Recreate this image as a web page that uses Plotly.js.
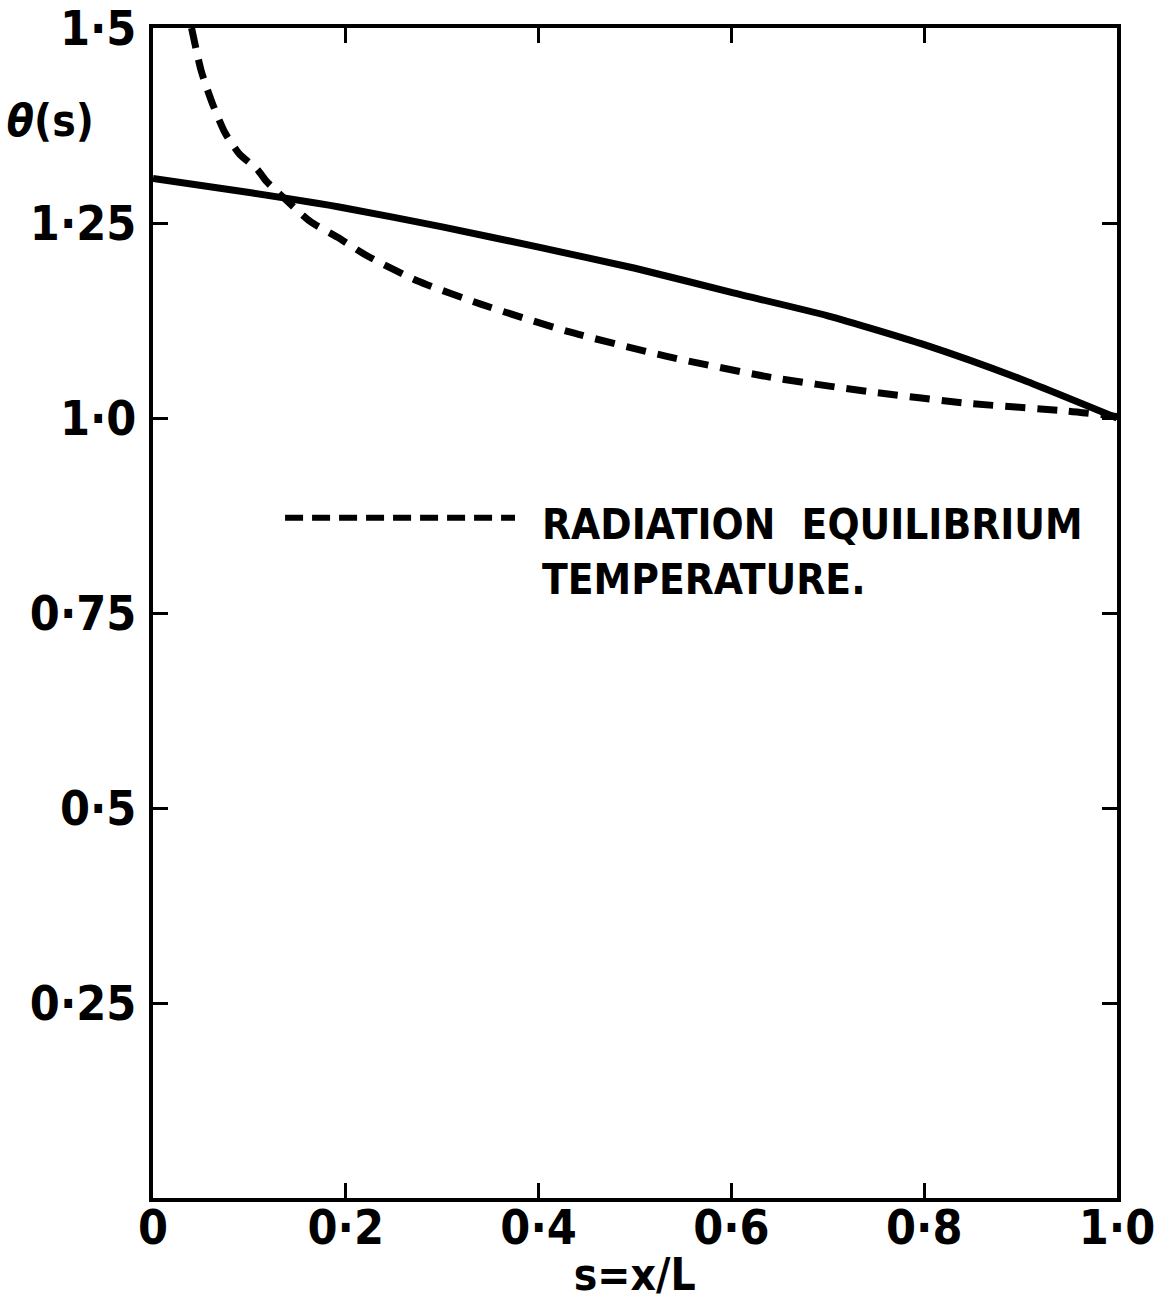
<!DOCTYPE html>
<html>
<head>
<meta charset="utf-8">
<script src="https://cdn.plot.ly/plotly-3.0.1.min.js"></script>
<style>
html,body{margin:0;padding:0;background:#fff;}
#chart{width:1155px;height:1306px;}
#chart text{font-stretch:condensed !important;}
</style>
</head>
<body>
<div id="chart"></div>
<script>
// Solid curve: temperature distribution theta(s)
const solidS = [0, 0.1, 0.2, 0.3, 0.4, 0.5, 0.6, 0.7, 0.8, 0.9, 1.0];
const solidTheta = [1.307, 1.289, 1.269, 1.245, 1.219, 1.192, 1.161, 1.131, 1.094, 1.05, 1.0];

// Dashed curve: radiation equilibrium temperature
const dashS = [0.04, 0.05, 0.062, 0.075, 0.09, 0.108, 0.118, 0.135, 0.163, 0.191, 0.222, 0.274, 0.34, 0.43, 0.533, 0.637, 0.741, 0.844, 0.948, 1.0];
const dashTheta = [1.5, 1.445, 1.402, 1.365, 1.338, 1.319, 1.303, 1.283, 1.252, 1.232, 1.208, 1.176, 1.146, 1.111, 1.079, 1.053, 1.034, 1.019, 1.009, 1.002];

const xTickVals = [0, 0.2, 0.4, 0.6, 0.8, 1.0];
const xTickText = ["0", "0·2", "0·4", "0·6", "0·8", "1·0"];
const yTickVals = [0.25, 0.5, 0.75, 1.0, 1.25, 1.5];
const yTickText = ["0·25", "0·5", "0·75", "1·0", "1·25", "1·5"];

const legendText = "RADIATION  EQUILIBRIUM<br>TEMPERATURE.";
const xTitle = "s=x/L";
const yTitle = "<i>θ</i>(s)";

const FONT = '"DejaVu Sans", sans-serif';

const traces = [
  {x: solidS, y: solidTheta, mode: 'lines', type: 'scatter',
   line: {color: '#000', width: 7, shape: 'spline', smoothing: 0.6}, showlegend: false, hoverinfo: 'skip'},
  {x: dashS, y: dashTheta, mode: 'lines', type: 'scatter',
   line: {color: '#000', width: 7, dash: '20px,12px', shape: 'spline', smoothing: 0.6}, showlegend: false, hoverinfo: 'skip'}
];

const axisCommon = {
  showgrid: false, zeroline: false, showline: true, linecolor: '#000', linewidth: 4,
  mirror: 'ticks', ticks: 'inside', ticklen: 15, tickwidth: 3, tickcolor: '#000',
  ticklabeloverflow: 'allow',
  tickfont: {family: FONT, size: 48, color: '#000', weight: 'bold'}
};

const layout = {
  width: 1155, height: 1306,
  margin: {l: 153, r: 38, t: 28, b: 108},
  paper_bgcolor: '#fff', plot_bgcolor: '#fff',
  xaxis: Object.assign({}, axisCommon, {range: [0, 1.0], tickmode: 'array', tickvals: xTickVals, ticktext: xTickText, ticklabelstandoff: -16}),
  yaxis: Object.assign({}, axisCommon, {range: [0, 1.5], tickmode: 'array', tickvals: yTickVals, ticktext: yTickText, ticklabelstandoff: 3}),
  shapes: [
    {type: 'line', xref: 'x', yref: 'y', x0: 0.137, x1: 0.3755, y0: 0.872, y1: 0.872,
     line: {color: '#000', width: 6, dash: '18px,9px'}}
  ],
  annotations: [
    {text: legendText, xref: 'paper', yref: 'paper', x: 0.401, y: 0.552, xanchor: 'left', yanchor: 'middle',
     align: 'left', showarrow: false, font: {family: FONT, size: 42, color: '#000', weight: 'bold'}},
    {text: xTitle, xref: 'paper', yref: 'paper', x: 0.5, y: 0, yshift: -76, xanchor: 'center', yanchor: 'middle',
     showarrow: false, font: {family: FONT, size: 44, color: '#000', weight: 'bold'}},
    {text: yTitle, xref: 'paper', yref: 'paper', x: 0, xshift: -103, y: 0.921, xanchor: 'center', yanchor: 'middle',
     showarrow: false, font: {family: FONT, size: 44, color: '#000', weight: 'bold'}}
  ]
};

Plotly.newPlot('chart', traces, layout, {staticPlot: true});
</script>
</body>
</html>
